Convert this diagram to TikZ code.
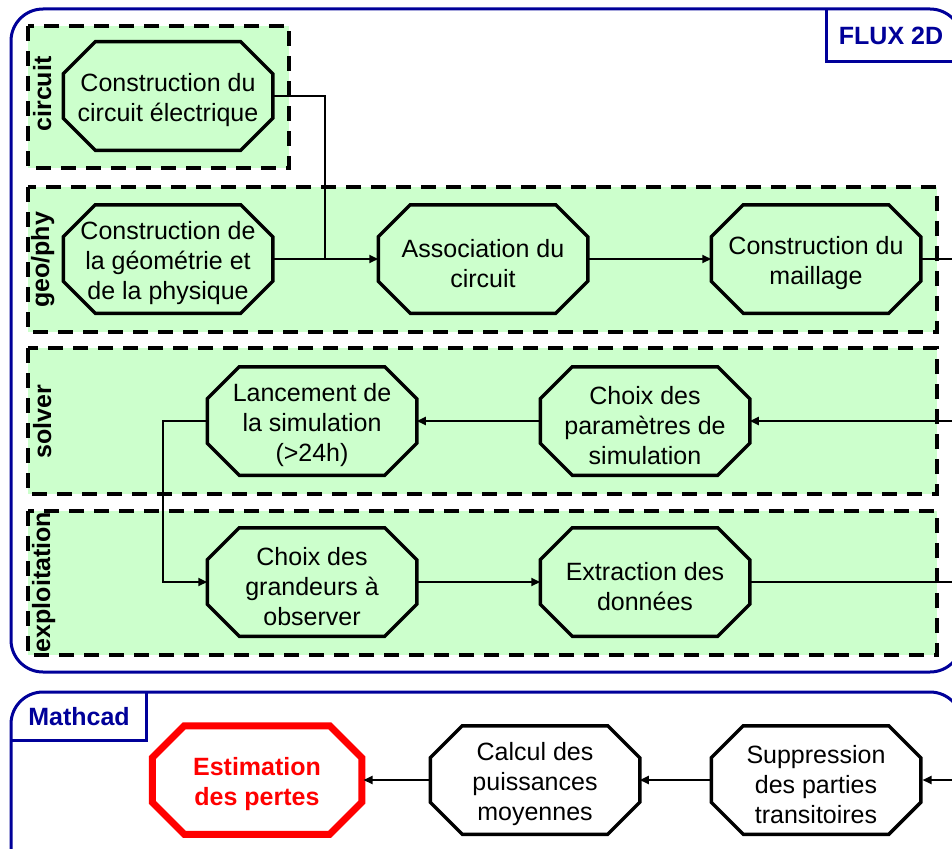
\documentclass[tikz,border=0pt]{standalone}
\usepackage{fontspec}
\setmainfont{Liberation Sans}
\usetikzlibrary{calc,arrows.meta}
\definecolor{navy}{RGB}{0,0,153}
\definecolor{lanegreen}{RGB}{204,255,204}
\pgfdeclarelayer{lanes}
\pgfdeclarelayer{octs}
\pgfsetlayers{lanes,octs,main}
\newcommand\octshape[2][]{%
  \begin{pgfonlayer}{octs}
  \draw[octline,#1] ($(#2.north west)+(32,0)$) -- ($(#2.north east)+(-32,0)$)
    -- ($(#2.north east)+(0,32)$) -- ($(#2.south east)+(0,-32)$)
    -- ($(#2.south east)+(-32,0)$) -- ($(#2.south west)+(32,0)$)
    -- ($(#2.south west)+(0,-32)$) -- ($(#2.north west)+(0,32)$) -- cycle;
  \end{pgfonlayer}}
% #1 extra text style, #2 name, #3 position, #4 text
\newcommand\procnode[4][]{%
  \node[octnode] (#2) at #3 {};
  \node[octtext,#1] (#2t) at ($(#2)+(0,4.5)$) {#4};}
\begin{document}
\begin{tikzpicture}[x=1pt,y=-1pt,
  bluebox/.style={draw=navy,line width=3pt,rounded corners=32pt},
  bluetext/.style={text=navy,font=\fontsize{25}{30}\selectfont\bfseries,inner sep=0pt},
  lane/.style={fill=lanegreen,draw=black,line width=4pt,dash pattern=on 15pt off 10pt},
  lanelabel/.style={rotate=90,anchor=base,inner sep=0pt,font=\fontsize{25}{30}\selectfont\bfseries},
  octnode/.style={draw=none,minimum width=206pt,minimum height=105pt,inner sep=0pt,outer sep=1.75pt},
  octtext/.style={inner sep=0pt,align=center,font=\fontsize{25}{30}\selectfont},
  octline/.style={draw=black,line width=3.5pt,fill=lanegreen},
  conn/.style={draw=black,line width=2pt},
  arr/.style={conn,-{Triangle[length=9pt,width=8pt]}}]
\useasboundingbox (0,0) rectangle (952,848);
\clip (0,0) rectangle (952,848);

% outer tool boxes
\draw[bluebox] (11,9) rectangle (962,672);
\draw[navy,line width=3pt] (826,9) -- (826,62) -- (962,62);
\node[bluetext,anchor=base] (flux) at (891,45) {FLUX 2D};

\draw[bluebox] (11,692) rectangle (962,900);
\draw[navy,line width=3pt] (146,692) -- (146,740) -- (11,740);
\node[bluetext,anchor=base] (mathcad) at (79,725) {Mathcad};

% lanes
\begin{pgfonlayer}{lanes}
\draw[lane] (28,26) rectangle (289,168);
\draw[lane] (28,187) rectangle (937,332);
\draw[lane] (28,348) rectangle (937,494);
\draw[lane] (28,511) rectangle (937,655);
\end{pgfonlayer}
\node[lanelabel] (lc) at (51,94) {circuit};
\node[lanelabel] (lg) at (49,260) {geo/phy};
\node[lanelabel] (ls) at (51,422) {solver};
\node[lanelabel] (le) at (50,582) {exploitation};

% process nodes
\procnode{c1}{(168,96)}{Construction du\\circuit électrique}
\procnode{g1}{(168,259)}{Construction de\\la géométrie et\\de la physique}
\procnode{a1}{(483,259)}{Association du\\circuit}
\procnode{m1}{(816,259)}{Construction du\\maillage}
\procnode{l1}{(312,421)}{Lancement de\\la simulation\\(>24h)}
\procnode{p1}{(645,421)}{Choix des\\paramètres de\\simulation}
\procnode{o1}{(312,582)}{Choix des\\grandeurs à\\observer}
\procnode{e1}{(645,582)}{Extraction des\\données}
\procnode[text=red,font=\fontsize{25}{30}\selectfont\bfseries]{est}{(257,780)}{Estimation\\des pertes}
\procnode{cal}{(535,780)}{Calcul des\\puissances\\moyennes}
\procnode{sup}{(816,780)}{Suppression\\des parties\\transitoires}

\octshape{c1}\octshape{g1}\octshape{a1}\octshape{m1}
\octshape{l1}\octshape{p1}\octshape{o1}\octshape{e1}
\octshape[draw=red,line width=7pt,fill=white]{est}
\octshape[fill=white]{cal}\octshape[fill=white]{sup}

% connectors
\coordinate (j1) at (325,259);
\coordinate (k1) at (163,421);
\coordinate (rm) at (960,259);
\coordinate (rs) at (960,421);
\coordinate (re) at (960,582);
\coordinate (rb) at (960,780);

\draw[conn] (c1.east) -| (j1);
\draw[arr] (g1.east) -- (a1.west);
\draw[arr] (a1.east) -- (m1.west);
\draw[conn] (m1.east) -- (rm);
\draw[arr] (rs) -- (p1.east);
\draw[arr] (p1.west) -- (l1.east);
\draw[arr] (l1.west) -- (k1) |- (o1.west);
\draw[arr] (o1.east) -- (e1.west);
\draw[conn] (e1.east) -- (re);
\draw[arr] (rb) -- ([xshift=1.75pt]sup.east);
\draw[arr] (sup.west) -- (cal.east);
\draw[arr] (cal.west) -- ([xshift=1.75pt]est.east);
\end{tikzpicture}
\end{document}
